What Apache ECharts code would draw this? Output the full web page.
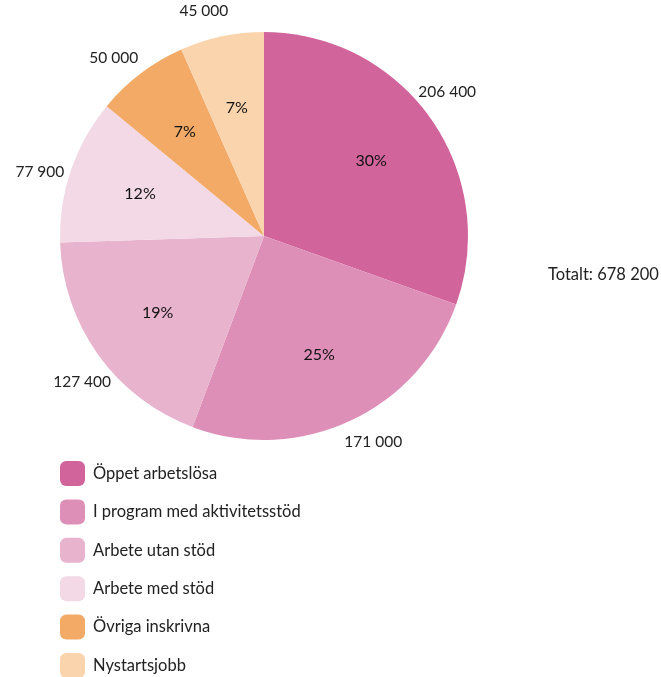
<!DOCTYPE html>
<html><head><meta charset="utf-8">
<script src="https://cdn.jsdelivr.net/npm/echarts@6/dist/echarts.min.js"></script>
<style>html,body{margin:0;padding:0;background:#fff}#c{width:661px;height:677px}</style>
</head><body><div id="c"></div>
<script>
const categories = ['Öppet arbetslösa','I program med aktivitetsstöd','Arbete utan stöd','Arbete med stöd','Övriga inskrivna','Nystartsjobb'];
const values = [206400, 171000, 127400, 77900, 50000, 45000];
const colors = ['#D2649C','#DD8FB7','#E8B3CD','#F2D9E5','#F2AA66','#FAD4AD'];
const totalLabel = 'Totalt: 678 200';

const fmt = v => String(v).replace(/\B(?=(\d{3})+(?!\d))/g, ' ');
const font = 'Lato, "Noto Sans", sans-serif';
const mainData = categories.map((n,i)=>({name:n, value:values[i], itemStyle:{color:colors[i]}}));
const ghostData = categories.map((n,i)=>({name:n, value:values[i], itemStyle:{color:'rgba(0,0,0,0)'}}));
const center = [264, 236];

const chart = echarts.init(document.getElementById('c'), null, {renderer:'canvas'});
chart.setOption({
  animation:false,
  color: colors,
  title:{text: totalLabel, left: 548, top: 266, padding:0, textStyle:{fontFamily:font, fontSize:16.5, fontWeight:'normal', color:'#222'}},
  legend:{
    data: categories, orient:'vertical', left:60, top:461, height:240, padding:0,
    icon:'roundRect', itemWidth:25, itemHeight:25, itemGap:13.4,
    textStyle:{fontFamily:font, fontSize:16.5, color:'#222', padding:[0,0,0,3]},
    selectedMode:false
  },
  series:[
    {type:'pie', center:center, radius:[0,204], startAngle:90, clockwise:true,
     silent:true, label:{show:false}, labelLine:{show:false}, data:mainData, emphasis:{disabled:true}},
    {type:'pie', center:center, radius:[0,256], startAngle:90, clockwise:true, percentPrecision:0,
     silent:true, labelLine:{show:false}, emphasis:{disabled:true},
     label:{show:true, position:'inside', formatter:'{d}%', fontFamily:font, fontSize:16, color:'#111'},
     data:ghostData},
    {type:'pie', center:center, radius:[204,256], startAngle:93, clockwise:true,
     silent:true, labelLine:{show:false}, emphasis:{disabled:true},
     label:{show:true, position:'inside', formatter:p=>fmt(p.value), fontFamily:font, fontSize:15.5, color:'#222'},
     data:ghostData}
  ]
});
</script></body></html>
